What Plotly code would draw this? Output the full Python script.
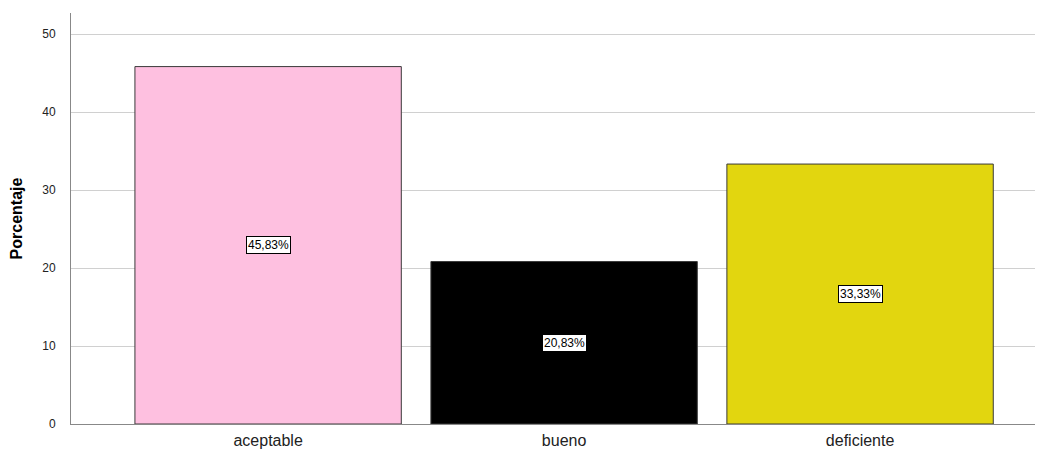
import plotly.graph_objects as go

categories = ["aceptable", "bueno", "deficiente"]
values = [45.83, 20.83, 33.33]
labels = ["45,83%", "20,83%", "33,33%"]
colors = ["#FEC0E0", "#000000", "#E2D60F"]
y_ticks = [0, 10, 20, 30, 40, 50]

fig = go.Figure()
fig.add_trace(go.Bar(
    x=categories, y=values,
    marker=dict(color=colors, line=dict(color="#3a3a3a", width=1)),
    width=0.9,
    hoverinfo="skip",
))

for c, v, t in zip(categories, values, labels):
    fig.add_annotation(
        x=c, y=v / 2, text=t, showarrow=False,
        font=dict(family="Arial, Liberation Sans", size=12, color="black"),
        bgcolor="white", bordercolor="black", borderwidth=1, borderpad=1,
    )

fig.update_layout(
    width=1035, height=442,
    margin=dict(l=63, r=0, t=5, b=26),
    plot_bgcolor="white", paper_bgcolor="white",
    showlegend=False,
    bargap=0.1,
)
fig.update_xaxes(
    range=[-0.666, 2.618],
    showgrid=False, showline=True, linecolor="#888888", linewidth=1,
    ticks="", ticklabelstandoff=2,
    tickfont=dict(family="Arial, Liberation Sans", size=16, color="#222222"),
    zeroline=False,
)
fig.update_yaxes(
    range=[0, 52.7], tickvals=y_ticks,
    showgrid=True, gridcolor="#d0d0d0", gridwidth=1,
    showline=True, linecolor="#888888", linewidth=1,
    ticks="", ticklabelstandoff=12,
    tickfont=dict(family="Arial, Liberation Sans", size=12, color="#222222"),
    zeroline=False,
    title=dict(text="<b>Porcentaje</b>", font=dict(family="Arial, Liberation Sans", size=16, color="black"), standoff=16),
)

fig.write_html("out.html")
